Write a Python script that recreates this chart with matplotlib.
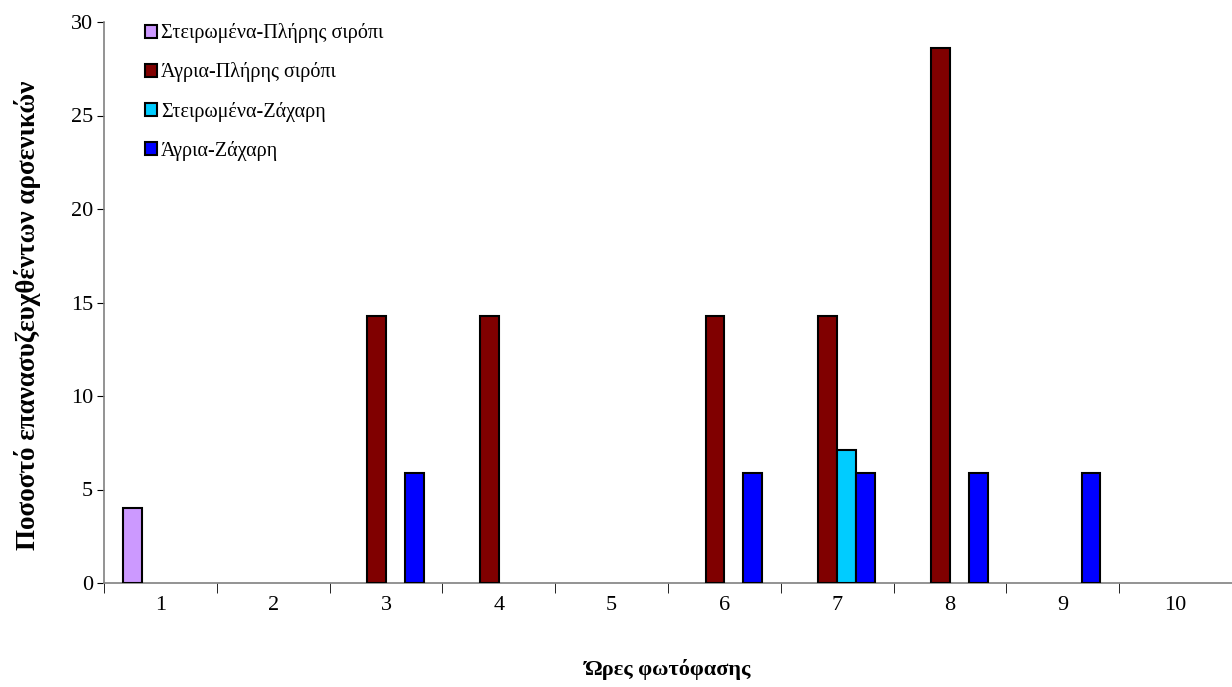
import numpy as np
from matplotlib import pyplot as plt

# Ώρες φωτόφασης
hours = ['1', '2', '3', '4', '5', '6', '7', '8', '9', '10']

# ποσοστά ανά ομάδα (nan = καμία μπάρα)
steiromena_siropi = [4.0, np.nan, np.nan, np.nan, np.nan, np.nan, np.nan, np.nan, np.nan, np.nan]
agria_siropi = [np.nan, np.nan, 14.3, 14.3, np.nan, 14.3, 14.3, 28.6, np.nan, np.nan]
steiromena_zaxari = [np.nan, np.nan, np.nan, np.nan, np.nan, np.nan, 7.1, np.nan, np.nan, np.nan]
agria_zaxari = [np.nan, np.nan, 5.9, np.nan, np.nan, 5.9, 5.9, 5.9, 5.9, np.nan]

series_names = ['Στειρωμένα-Πλήρης σιρόπι', 'Άγρια-Πλήρης σιρόπι',
                'Στειρωμένα-Ζάχαρη', 'Άγρια-Ζάχαρη']
series_colors = ['#CC99FF', '#800000', '#00CCFF', '#0000FF']

plt.rcParams['font.family'] = ['Liberation Serif', 'DejaVu Serif']

fig = plt.figure(figsize=(12.32, 6.87), dpi=100)
ax = fig.add_axes([104 / 1232, 1 - 583 / 687, 1 - 104 / 1232, (583 - 22) / 687])

x = np.arange(1, len(hours) + 1)
w = 1 / 6
all_series = [steiromena_siropi, agria_siropi, steiromena_zaxari, agria_zaxari]
for i, (vals, name, col) in enumerate(zip(all_series, series_names, series_colors)):
    ax.bar(x + (i - 1.5) * w, vals, width=w, color=col, edgecolor='black',
           linewidth=1.5, label=name, zorder=3)

ax.set_xlim(0.5, len(hours) + 0.5)
ax.set_ylim(0, 30)
ax.set_yticks(range(0, 31, 5))

ax.set_xticks(x)
ax.set_xticklabels(hours)
ax.set_xticks(np.arange(0.5, len(hours) + 1, 1), minor=True)
ax.tick_params(axis='x', which='major', length=0, pad=9, labelsize=16)
ax.tick_params(axis='x', which='minor', length=7, direction='out', color='black')
ax.tick_params(axis='y', length=5, direction='out', labelsize=16, pad=3)

for s in ['top', 'right']:
    ax.spines[s].set_visible(False)
for s in ['left', 'bottom']:
    ax.spines[s].set_color('#808080')
    ax.spines[s].set_linewidth(1.2)

ax.set_xlabel('Ώρες φωτόφασης', fontsize=16, fontweight='bold', labelpad=32)
ax.set_ylabel('Ποσοστό επανασυζευχθέντων αρσενικών', fontsize=19.5,
              fontweight='bold')
ax.yaxis.set_label_coords(-0.056, 0.478)

leg = ax.legend(loc='upper left', bbox_to_anchor=(0.02, 1.03), frameon=False,
                fontsize=14.5, handlelength=0.62, handleheight=0.62,
                handletextpad=0.2, labelspacing=0.95)

plt.savefig('out.png', dpi=100)
